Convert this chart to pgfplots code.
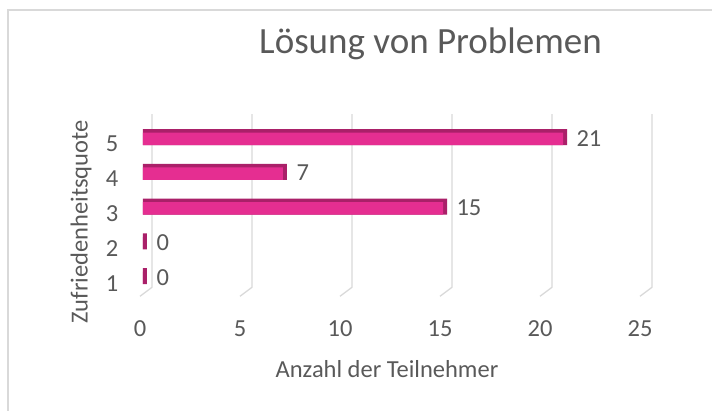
\documentclass[border=0pt]{standalone}
\usepackage{pgfplots}
\pgfplotsset{compat=1.18}
\usepackage{fontspec}
\setmainfont{Carlito}

\definecolor{barfront}{RGB}{229,46,145}
\definecolor{bardark}{RGB}{170,32,105}
\definecolor{gridgray}{RGB}{217,217,217}
\definecolor{txtgray}{RGB}{89,89,89}

\begin{document}
\begin{tikzpicture}
\begin{axis}[
    scale only axis,
    width=500pt, height=184.2pt,
    xmin=0, xmax=25, ymin=0.4, ymax=5.7,
    clip=false,
    axis line style={draw=none},
    major tick length=0pt,
    xtick={0,5,...,25},
    ytick={1,2,3,4,5},
    /pgf/number format/assume math mode=true,
    ticklabel style={font=\fontsize{24.5}{26}\selectfont, text=txtgray},
    xticklabel style={anchor=center, yshift=-32pt},
    yticklabel style={anchor=center, xshift=-28pt, yshift=-7pt},
]
% gridlines with 3D floor
\addplot[gridgray, line width=1.3pt, forget plot] coordinates {(0.6,5.66)(0.6,0.68)(0,0.42)};
\addplot[gridgray, line width=1.3pt, forget plot] coordinates {(5.6,5.66)(5.6,0.68)(5,0.42)};
\addplot[gridgray, line width=1.3pt, forget plot] coordinates {(10.6,5.66)(10.6,0.68)(10,0.42)};
\addplot[gridgray, line width=1.3pt, forget plot] coordinates {(15.6,5.66)(15.6,0.68)(15,0.42)};
\addplot[gridgray, line width=1.3pt, forget plot] coordinates {(20.6,5.66)(20.6,0.68)(20,0.42)};
\addplot[gridgray, line width=1.3pt, forget plot] coordinates {(25.6,5.66)(25.6,0.68)(25,0.42)};

% dark top/side faces
\addplot[xbar, bar width=16pt, bar shift=0pt, fill=bardark, draw=none, xshift=3pt] coordinates {
    (21.2,5) (7.2,4) (15.2,3) (0.2,2) (0.2,1)
};
% front faces
\addplot[xbar, bar width=12.5pt, bar shift=-1.75pt, fill=barfront, draw=none, xshift=3pt,
    nodes near coords,
    every node near coord/.style={anchor=west, xshift=10pt, yshift=-1pt,
        font=\fontsize{24.5}{26}\selectfont, text=txtgray}] coordinates {
    (21,5) (7,4) (15,3) (0,2) (0,1)
};

\node[font=\fontsize{37}{40}\selectfont, text=txtgray] at (rel axis cs:0.581,1.373) {Lösung von Problemen};
\node[font=\fontsize{24.5}{26}\selectfont, text=txtgray] at (rel axis cs:0.494,-0.391) {Anzahl der Teilnehmer};
\node[font=\fontsize{24.5}{26}\selectfont, text=txtgray, rotate=90] at (rel axis cs:-0.118,0.407) {Zufriedenheitsquote};

\draw[gridgray, line width=1.5pt] (rel axis cs:-0.264,-0.7) -- (rel axis cs:-0.264,1.558) -- (rel axis cs:1.2,1.558);
\coordinate (bl) at (rel axis cs:-0.28,-0.6189);
\coordinate (tr) at (rel axis cs:1.144,1.6124);
\end{axis}
\pgfresetboundingbox
\path (bl) rectangle (tr);
\end{tikzpicture}
\end{document}
